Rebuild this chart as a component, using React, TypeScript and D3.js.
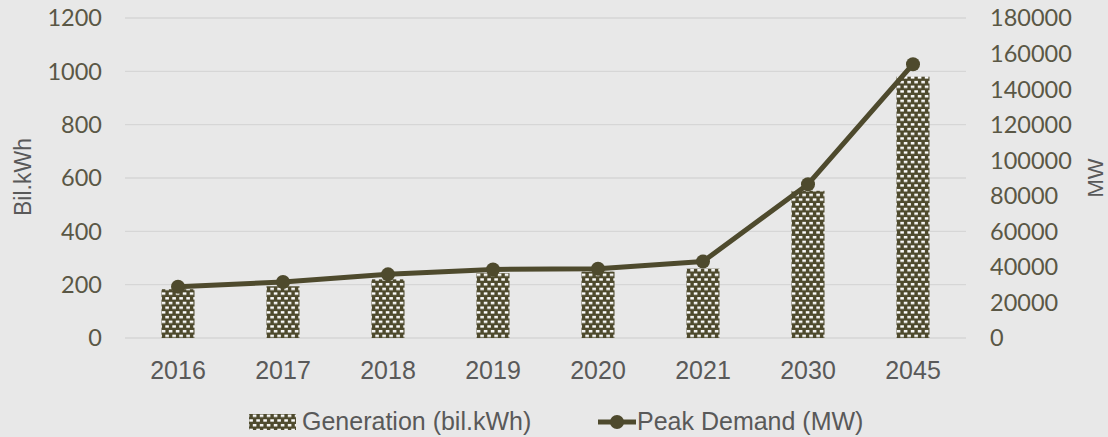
import { useEffect } from 'react';
import * as d3 from 'd3';

const categories = ['2016', '2017', '2018', '2019', '2020', '2021', '2030', '2045'];
const generation = [183, 194, 220, 243, 249, 260, 552, 980];
const peakDemand = [28800, 31500, 35800, 38600, 39000, 43000, 86500, 154000];
const leftTicks = [0, 200, 400, 600, 800, 1000, 1200];
const rightTicks = [0, 20000, 40000, 60000, 80000, 100000, 120000, 140000, 160000, 180000];

const W = 1108;
const H = 437;
const ink = '#4e4a2d';
const tickColor = '#5a5745';
const textColor = '#595959';

export default function App() {
  useEffect(() => {
    document.body.style.margin = '0';
    document.body.style.background = '#e8e8e8';
  }, []);

  const x = d3.scaleBand<string>().domain(categories).range([125.5, 965.5]).padding(0);
  const yL = d3.scaleLinear().domain([0, 1200]).range([338, 18]);
  const yR = d3.scaleLinear().domain([0, 180000]).range([338, 18]);
  const barW = 33;
  const cx = (c: string) => (x(c) ?? 0) + x.bandwidth() / 2;

  const line = d3.line<number>()
    .x((_, i) => cx(categories[i]))
    .y(d => yR(d));

  return (
    <svg width={W} height={H} style={{ display: 'block', background: '#e8e8e8' }}>
      <defs>
        <pattern id="chk" width={7} height={9.4} patternUnits="userSpaceOnUse">
          <rect width={7} height={9.4} fill={ink} />
          <rect x={0.8} y={1} width={3.6} height={2.4} fill="#ffffff" />
          <rect x={4.3} y={5.7} width={3.6} height={2.4} fill="#ffffff" />
          <rect x={-2.7} y={5.7} width={3.6} height={2.4} fill="#ffffff" />
        </pattern>
      </defs>

      {/* gridlines */}
      {leftTicks.map(t => (
        <line key={t} x1={125} x2={966} y1={yL(t)} y2={yL(t)} stroke="#d6d6d6" strokeWidth={1.3} />
      ))}

      {/* left ticks */}
      {leftTicks.map(t => (
        <text key={t} x={102} y={yL(t)} dy="0.36em" textAnchor="end"
          fontFamily="Lato, sans-serif" fontSize={23.5} fill={tickColor}>{t}</text>
      ))}
      {/* right ticks */}
      {rightTicks.map(t => (
        <text key={t} x={990} y={yR(t)} dy="0.36em" textAnchor="start"
          fontFamily="Lato, sans-serif" fontSize={23.5} fill={tickColor}>{t}</text>
      ))}

      {/* axis titles */}
      <text transform="translate(31,177) rotate(-90)" textAnchor="middle"
        fontFamily="Liberation Sans, Arial, sans-serif" fontSize={23} fill={textColor}>Bil.kWh</text>
      <text transform="translate(1103,178) rotate(-90)" textAnchor="middle"
        fontFamily="Liberation Sans, Arial, sans-serif" fontSize={22} fill={textColor}>MW</text>

      {/* bars */}
      {generation.map((v, i) => (
        <rect key={categories[i]} x={cx(categories[i]) - barW / 2} y={yL(v)}
          width={barW} height={yL(0) - yL(v)} fill="url(#chk)" />
      ))}

      {/* line */}
      <path d={line(peakDemand) ?? ''} fill="none" stroke={ink} strokeWidth={5} strokeLinejoin="round" />
      {peakDemand.map((v, i) => (
        <circle key={categories[i]} cx={cx(categories[i])} cy={yR(v)} r={7} fill={ink} />
      ))}

      {/* category labels */}
      {categories.map(c => (
        <text key={c} x={cx(c)} y={379} textAnchor="middle"
          fontFamily="Liberation Sans, Arial, sans-serif" fontSize={25} fill={textColor}>{c}</text>
      ))}

      {/* legend */}
      <rect x={249} y={414} width={47} height={16} fill="url(#chk)" />
      <text x={302} y={430} fontFamily="Liberation Sans, Arial, sans-serif" fontSize={25} fill={textColor}>
        Generation (bil.kWh)
      </text>
      <line x1={598} x2={636} y1={422} y2={422} stroke={ink} strokeWidth={5} />
      <circle cx={617} cy={422} r={7} fill={ink} />
      <text x={637} y={430} fontFamily="Liberation Sans, Arial, sans-serif" fontSize={25} fill={textColor}>
        Peak Demand (MW)
      </text>
    </svg>
  );
}
